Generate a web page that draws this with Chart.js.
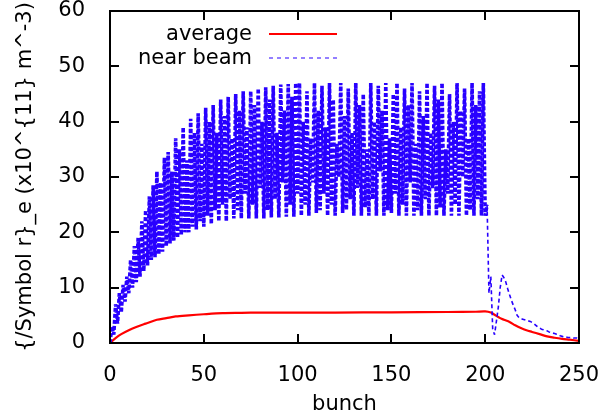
<!DOCTYPE html>
<html>
<head>
<meta charset="utf-8">
<title>electron density per bunch</title>
<script src="https://cdn.jsdelivr.net/npm/chart.js@4"></script>
<style>
  html, body { margin: 0; padding: 0; background: #fff; }
  #wrap { width: 602px; height: 418px; }
</style>
</head>
<body>
<div id="wrap"><canvas id="chart" width="602" height="418"></canvas></div>
<script>
// "near beam" density, one value per bunch (bunch = index, 0..250)
const nearBeam = [
    0, 3, 1.5, 7, 3.5, 9, 5.5, 10.5, 7.5, 12,
    9, 15, 10, 17.5, 11, 19, 12, 22, 13, 24,
    14, 26.5, 15, 28.5, 15.5, 31, 16, 29, 16.5, 33.5,
    17.5, 34.5, 18, 31, 18.5, 37, 19, 35, 19.5, 39,
    20, 33, 20, 40.5, 21, 38, 20.5, 41.5, 22, 36,
    21, 42.5, 23, 40, 21.5, 43, 24, 38, 22, 44,
    25, 41, 22, 44.5, 26, 37, 22.5, 45, 24, 42,
    22.5, 45.5, 27, 39, 22.5, 45.5, 25, 43, 22.5, 46,
    28, 40, 22.5, 46.2, 24, 44, 22.7, 46.5, 26, 38,
    22.7, 46.7, 29, 42, 22.8, 46.8, 25, 44.5, 22.8, 47,
    27, 47, 23, 40, 25, 45.5, 23, 37, 29, 47,
    23.5, 42, 24, 46.5, 27, 39, 23, 47, 25, 44,
    23, 36, 30, 47, 23.5, 41, 24, 46, 26, 38,
    23, 47, 28, 43, 23, 45, 24.5, 35, 23, 47,
    26, 40, 23, 46.5, 31, 42, 23, 47, 24, 37,
    23.5, 45, 27, 47, 23, 39, 25, 46, 23, 43,
    29, 47, 23, 36, 24, 45.5, 23, 41, 26, 47,
    23, 38, 28, 46.5, 23, 44, 24.5, 47, 23, 35,
    27, 45, 23, 40, 25, 47, 23, 42, 30, 46,
    23, 37, 24, 47, 23, 43, 26, 45.5, 23, 47,
    23, 25, 9, 12, 2.5, 1.5, 4, 6.5, 10, 12.3,
    11.8, 11, 9.8, 8.7, 7.7, 6.8, 6, 5, 4.6, 4.4,
    4.3, 4.2, 4.1, 4, 3.9, 3.7, 3.5, 3.2, 2.9, 2.7,
    2.5, 2.4, 2.3, 2.2, 2, 1.9, 1.8, 1.7, 1.6, 1.5,
    1.3, 1.2, 1.1, 1.1, 1, 1, 1, 0.9, 0.9, 0.9,
    0.8
];

// "average" density, read at a few bunches
const avgBunch = [0, 3, 6, 10, 14, 18, 20, 25, 30, 35, 42, 50, 60, 70, 80, 100, 120, 150, 180, 195, 200,
    203, 205, 208, 210, 213, 216, 219, 222, 225, 229, 233, 237, 241, 245, 250];
const avgValue = [0, 0.9, 1.6, 2.3, 2.9, 3.4, 3.6, 4.2, 4.5, 4.8, 5.0, 5.2, 5.4, 5.45, 5.5, 5.5, 5.5, 5.55, 5.6, 5.65, 5.7,
    5.5, 5.1, 4.5, 4.2, 3.8, 3.2, 2.7, 2.3, 2.0, 1.6, 1.2, 0.95, 0.75, 0.6, 0.4];

const xTicks = [0, 50, 100, 150, 200, 250];
const yTicks = [0, 10, 20, 30, 40, 50, 60];

const FONT = { family: 'DejaVu Sans', size: 21 };

// gnuplot style frame: border plus inward ticks on all four sides
const framePlugin = {
    id: 'frame',
    afterDatasetsDraw(chart) {
        const { ctx, chartArea: a, scales } = chart;
        const tl = 9;
        ctx.save();
        ctx.strokeStyle = '#000';
        ctx.lineWidth = 2;
        ctx.strokeRect(a.left, a.top, a.right - a.left, a.bottom - a.top);
        ctx.beginPath();
        xTicks.forEach(v => {
            const x = Math.round(scales.x.getPixelForValue(v));
            ctx.moveTo(x, a.bottom); ctx.lineTo(x, a.bottom - tl);
            ctx.moveTo(x, a.top); ctx.lineTo(x, a.top + tl);
        });
        yTicks.forEach(v => {
            const y = Math.round(scales.y.getPixelForValue(v));
            ctx.moveTo(a.left, y); ctx.lineTo(a.left + tl, y);
            ctx.moveTo(a.right, y); ctx.lineTo(a.right - tl, y);
        });
        ctx.stroke();
        ctx.restore();
    }
};

// legend: right-aligned label with the line sample after it
const keyPlugin = {
    id: 'key',
    afterDraw(chart) {
        const { ctx } = chart;
        const rows = [
            { ds: chart.data.datasets[1], y: 35, w: 2, dash: [] },
            { ds: chart.data.datasets[0], y: 59, w: 1, dash: [4, 4] }
        ];
        ctx.save();
        ctx.font = FONT.size + 'px ' + FONT.family;
        ctx.fillStyle = '#000';
        ctx.textAlign = 'right';
        ctx.textBaseline = 'middle';
        rows.forEach(r => {
            ctx.fillText(r.ds.label, 252, r.y);
            ctx.beginPath();
            ctx.strokeStyle = r.ds.borderColor;
            ctx.lineWidth = r.w;
            ctx.setLineDash(r.dash);
            ctx.moveTo(269, r.y - 1);
            ctx.lineTo(337, r.y - 1);
            ctx.stroke();
        });
        ctx.restore();
    }
};

// pin the plot box: no extra room for the end tick labels
function noEdgePadding(s) {
    s.paddingLeft = 0; s.paddingRight = 0;
    s.paddingTop = 0; s.paddingBottom = 0;
}

// the dense oscillating part uses a heavier stroke than the tail
const inTail = c => c.p0.parsed.x >= 201;

const ctx = document.getElementById('chart').getContext('2d');
new Chart(ctx, {
    type: 'line',
    data: {
        datasets: [
            {
                label: 'near beam',
                data: nearBeam.map((v, i) => ({ x: i, y: v })),
                borderColor: 'rgb(40, 0, 255)',
                borderWidth: 3.6,
                borderDash: [4, 2],
                borderJoinStyle: 'bevel',
                segment: {
                    borderWidth: c => inTail(c) ? 1.6 : 3.6,
                    borderDash: c => inTail(c) ? [4, 3] : [4, 2]
                },
                pointRadius: 0,
                tension: 0,
                order: 0
            },
            {
                label: 'average',
                data: avgBunch.map((b, i) => ({ x: b, y: avgValue[i] })),
                borderColor: 'rgb(255, 0, 0)',
                borderWidth: 2.2,
                pointRadius: 0,
                tension: 0.3,
                order: 1
            }
        ]
    },
    options: {
        responsive: false,
        animation: false,
        layout: { padding: { top: 11, right: 23, left: 0, bottom: 0 } },
        plugins: { legend: { display: false }, tooltip: { enabled: false } },
        scales: {
            x: {
                type: 'linear',
                min: 0, max: 250,
                afterBuildTicks: s => { s.ticks = xTicks.map(v => ({ value: v })); },
                afterFit: s => { s.height = 75; noEdgePadding(s); },
                grid: { display: false },
                border: { display: false },
                ticks: { color: '#000', font: FONT, padding: 12, maxRotation: 0 },
                title: { display: true, text: 'bunch', color: '#000', font: FONT, padding: { top: 0, bottom: 1 } }
            },
            y: {
                min: 0, max: 60,
                afterBuildTicks: s => { s.ticks = yTicks.map(v => ({ value: v })); },
                afterFit: s => { s.width = 110; noEdgePadding(s); },
                grid: { display: false },
                border: { display: false },
                ticks: { color: '#000', font: FONT, padding: 17 },
                title: { display: true, text: '{/Symbol r}_e (x10^{11} m^-3)', color: '#000', font: FONT, padding: { top: 13, bottom: 0 } }
            }
        }
    },
    plugins: [framePlugin, keyPlugin]
});
</script>
</body>
</html>
